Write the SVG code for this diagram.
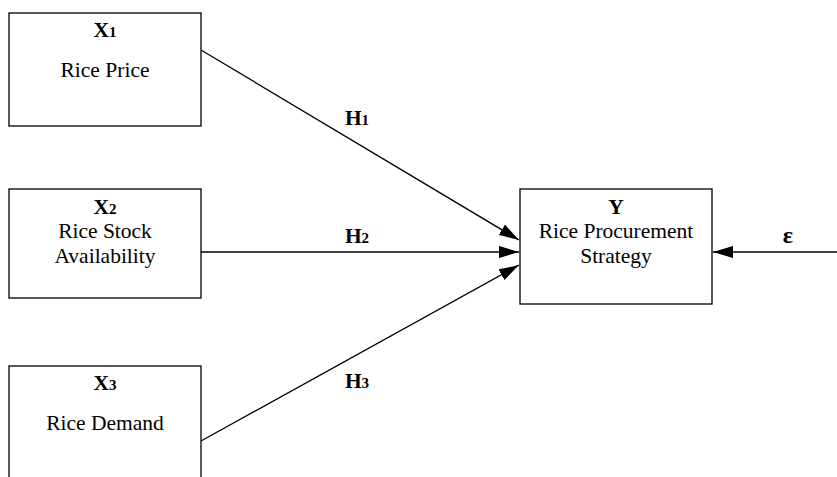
<svg xmlns="http://www.w3.org/2000/svg" width="837" height="477" viewBox="0 0 837 477">
  <style>
    .box { fill: #ffffff; stroke: #000000; stroke-width: 1.3; }
    .conn { stroke: #000000; stroke-width: 1.3; fill: none; }
    .t { font-family: "Liberation Serif", "Times New Roman", Times, "DejaVu Serif", serif; font-size: 21.5px; fill: #000000; text-anchor: middle; }
    .b { font-weight: bold; }
    .sub { font-size: 15px; }
  </style>
  <defs>
    <marker id="arr" viewBox="0 0 20 12" refX="20" refY="6" markerWidth="20" markerHeight="12" markerUnits="userSpaceOnUse" orient="auto">
      <path d="M0,0 L20,6 L0,12 Z" fill="#000000"/>
    </marker>
  </defs>
  <rect width="837" height="477" fill="#ffffff"/>
  <g id="x1">
    <rect class="box" x="9" y="13" width="192" height="113"/>
    <text class="t b" x="105" y="37">X<tspan class="sub">1</tspan></text>
    <text class="t" x="105" y="77">Rice Price</text>
  </g>
  <g id="x2">
    <rect class="box" x="9" y="189" width="192" height="109"/>
    <text class="t b" x="105" y="214">X<tspan class="sub">2</tspan></text>
    <text class="t" x="105" y="238">Rice Stock</text>
    <text class="t" x="105" y="263">Availability</text>
  </g>
  <g id="x3">
    <rect class="box" x="9" y="366" width="192" height="130"/>
    <text class="t b" x="105" y="390">X<tspan class="sub">3</tspan></text>
    <text class="t" x="105" y="430">Rice Demand</text>
  </g>
  <g id="y">
    <rect class="box" x="520" y="189" width="192" height="115"/>
    <text class="t b" x="616" y="214">Y</text>
    <text class="t" x="616" y="238">Rice Procurement</text>
    <text class="t" x="616" y="263">Strategy</text>
  </g>
  <g id="connectors">
    <line class="conn" x1="201" y1="50" x2="519" y2="240" marker-end="url(#arr)"/>
    <line class="conn" x1="201" y1="252" x2="519" y2="252" marker-end="url(#arr)"/>
    <line class="conn" x1="201" y1="441" x2="519" y2="265" marker-end="url(#arr)"/>
    <line class="conn" x1="837" y1="252" x2="713" y2="252" marker-end="url(#arr)"/>
  </g>
  <g id="labels">
    <text class="t b" x="357" y="125">H<tspan class="sub">1</tspan></text>
    <text class="t b" x="357" y="243">H<tspan class="sub">2</tspan></text>
    <text class="t b" x="357" y="388">H<tspan class="sub">3</tspan></text>
    <text class="t b" x="788" y="243" style="font-size:24px">ε</text>
  </g>
</svg>
